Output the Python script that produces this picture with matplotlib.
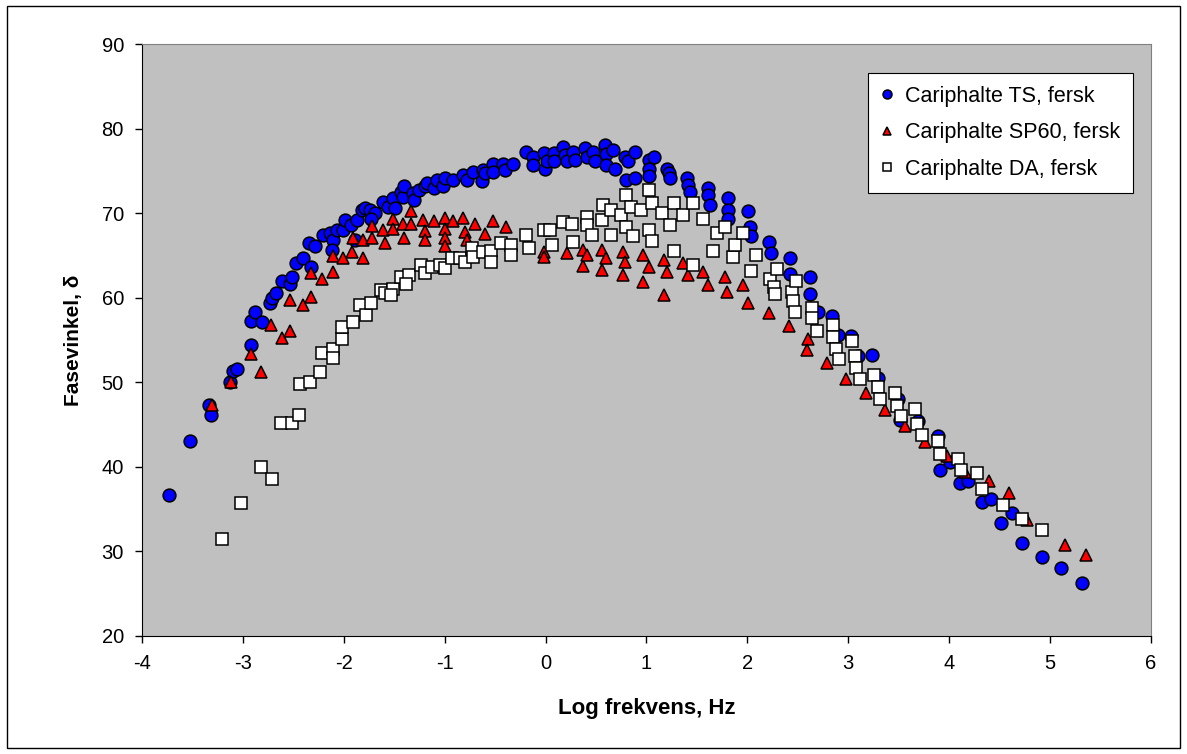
import matplotlib.pyplot as plt
from matplotlib.patches import Rectangle

plt.rcParams['font.family'] = ['Liberation Sans', 'DejaVu Sans']
plt.rcParams['axes.unicode_minus'] = False

# Cariphalte TS, fersk
ts_x = [-3.73, -3.52, -3.34, -3.32, -3.13, -3.10, -3.06, -2.92, -2.92, -2.88,
        -2.81, -2.73, -2.71, -2.67, -2.61, -2.53, -2.51, -2.47, -2.40, -2.32,
        -2.34, -2.29, -2.21, -2.14, -2.11, -2.12, -2.07, -2.01, -1.99, -1.93,
        -1.87, -1.89, -1.82, -1.79, -1.74, -1.69, -1.73, -1.61, -1.56, -1.51,
        -1.49, -1.43, -1.41, -1.40, -1.31, -1.30, -1.25, -1.20, -1.18, -1.11,
        -1.08, -1.02, -1.00, -0.92, -0.82, -0.78, -0.72, -0.62, -0.63, -0.60,
        -0.52, -0.52, -0.42, -0.40, -0.32, -0.19, -0.12, -0.12, -0.02, -0.01,
        0.01, 0.08, 0.08, 0.17, 0.19, 0.21, 0.27, 0.29, 0.39, 0.41,
        0.47, 0.49, 0.59, 0.60, 0.60, 0.67, 0.69, 0.79, 0.80, 0.82,
        0.89, 0.89, 1.02, 1.07, 1.02, 1.02, 1.20, 1.22, 1.23, 1.40,
        1.41, 1.43, 1.61, 1.61, 1.63, 1.81, 1.81, 1.81, 2.01, 2.03,
        2.04, 2.21, 2.23, 2.42, 2.42, 2.62, 2.62, 2.70, 2.84, 2.90,
        3.03, 3.10, 3.23, 3.29, 3.49, 3.51, 3.69, 3.89, 3.91, 4.01,
        4.11, 4.19, 4.32, 4.41, 4.51, 4.62, 4.72, 4.92, 5.11, 5.32]
ts_y = [36.7, 43.1, 47.3, 46.2, 50.0, 51.4, 51.6, 54.4, 57.3, 58.3,
        57.1, 59.4, 60.0, 60.6, 62.0, 61.7, 62.5, 64.1, 64.7, 63.7,
        66.5, 66.1, 67.5, 67.7, 66.9, 65.7, 68.0, 68.0, 69.2, 68.6,
        69.2, 66.9, 70.4, 70.6, 70.4, 70.0, 69.4, 71.4, 70.8, 71.8,
        70.6, 72.6, 72.0, 73.2, 72.4, 71.6, 72.8, 73.2, 73.6, 73.0,
        74.0, 73.2, 74.2, 74.0, 74.6, 74.0, 74.9, 75.1, 73.8, 74.8,
        75.9, 74.9, 75.9, 75.1, 75.9, 77.3, 76.7, 75.7, 77.1, 75.3,
        76.2, 77.1, 76.2, 77.9, 76.9, 76.2, 77.3, 76.3, 77.7, 76.7,
        77.3, 76.2, 78.1, 77.0, 75.7, 77.5, 75.3, 76.7, 74.0, 76.2,
        77.3, 74.2, 76.3, 76.7, 75.3, 74.4, 75.3, 74.8, 74.2, 74.2,
        73.4, 72.6, 73.0, 72.2, 71.0, 71.8, 70.4, 69.4, 70.3, 68.4,
        67.3, 66.6, 65.3, 64.7, 62.8, 62.5, 60.5, 58.3, 57.9, 55.6,
        55.5, 53.1, 53.3, 50.5, 48.1, 45.6, 45.4, 43.7, 39.6, 40.6,
        38.1, 38.3, 35.9, 36.2, 33.4, 34.6, 31.0, 29.4, 28.0, 26.3]

# Cariphalte SP60, fersk
sp_x = [-3.31, -3.12, -2.92, -2.82, -2.72, -2.61, -2.53, -2.53, -2.40, -2.32,
        -2.32, -2.22, -2.11, -2.11, -2.01, -1.92, -1.81, -1.91, -1.81, -1.72,
        -1.72, -1.61, -1.59, -1.51, -1.51, -1.41, -1.40, -1.33, -1.33, -1.21,
        -1.20, -1.20, -1.11, -1.00, -1.00, -1.00, -1.00, -0.92, -0.82, -0.80,
        -0.78, -0.70, -0.60, -0.52, -0.39, -0.02, -0.02, 0.21, 0.37, 0.37,
        0.41, 0.56, 0.56, 0.60, 0.77, 0.79, 0.77, 0.97, 1.02, 0.97,
        1.17, 1.20, 1.17, 1.36, 1.41, 1.56, 1.61, 1.78, 1.80, 1.96,
        2.01, 2.21, 2.41, 2.60, 2.59, 2.79, 2.98, 3.18, 3.36, 3.56,
        3.76, 3.98, 4.16, 4.39, 4.59, 4.77, 5.15, 5.36]
sp_y = [47.3, 50.1, 53.4, 51.3, 56.8, 55.3, 56.1, 59.8, 59.2, 60.1,
        62.9, 62.2, 63.1, 65.0, 64.7, 65.5, 64.7, 67.1, 66.9, 67.1,
        68.5, 68.0, 66.5, 69.4, 68.2, 68.8, 67.1, 70.3, 68.8, 69.2,
        67.9, 66.9, 69.1, 69.5, 68.2, 67.1, 66.1, 69.1, 69.5, 67.8,
        66.9, 68.8, 67.6, 69.1, 68.4, 65.5, 64.8, 65.3, 65.7, 63.8,
        65.1, 65.7, 63.3, 64.7, 65.5, 64.3, 62.7, 65.1, 63.7, 61.9,
        64.5, 63.1, 60.4, 64.1, 62.7, 63.1, 61.5, 62.5, 60.7, 61.5,
        59.4, 58.2, 56.7, 55.1, 53.8, 52.3, 50.4, 48.7, 46.7, 44.8,
        42.9, 41.3, 39.4, 38.3, 36.9, 33.7, 30.8, 29.6]

# Cariphalte DA, fersk
da_x = [-3.21, -3.02, -2.82, -2.71, -2.62, -2.51, -2.44, -2.43, -2.33, -2.24,
        -2.22, -2.11, -2.11, -2.02, -2.02, -1.91, -1.84, -1.78, -1.73, -1.63,
        -1.59, -1.51, -1.53, -1.43, -1.35, -1.38, -1.23, -1.20, -1.13, -1.05,
        -1.00, -0.93, -0.85, -0.80, -0.73, -0.72, -0.62, -0.54, -0.54, -0.44,
        -0.34, -0.34, -0.19, -0.16, -0.02, 0.04, 0.06, 0.17, 0.26, 0.27,
        0.41, 0.41, 0.46, 0.57, 0.56, 0.65, 0.65, 0.75, 0.80, 0.80,
        0.85, 0.87, 0.95, 1.02, 1.05, 1.02, 1.05, 1.15, 1.23, 1.27,
        1.27, 1.36, 1.46, 1.46, 1.56, 1.66, 1.70, 1.78, 1.86, 1.88,
        1.96, 2.04, 2.09, 2.22, 2.26, 2.27, 2.29, 2.44, 2.45, 2.47,
        2.48, 2.64, 2.64, 2.69, 2.85, 2.85, 2.88, 2.91, 3.04, 3.07,
        3.08, 3.12, 3.25, 3.29, 3.31, 3.46, 3.48, 3.52, 3.66, 3.68,
        3.73, 3.89, 3.91, 4.09, 4.12, 4.28, 4.32, 4.53, 4.72, 4.92]
da_y = [31.5, 35.7, 40.0, 38.6, 45.2, 45.2, 46.2, 49.8, 50.0, 51.2,
        53.5, 54.0, 52.9, 55.2, 56.6, 57.1, 59.2, 58.0, 59.4, 60.9,
        60.6, 61.1, 60.4, 62.5, 62.7, 61.7, 63.9, 62.9, 63.7, 63.9,
        63.5, 64.7, 64.7, 64.3, 65.9, 64.9, 65.5, 65.6, 64.3, 66.5,
        66.3, 65.1, 67.5, 65.9, 68.0, 68.0, 66.3, 69.0, 68.8, 66.6,
        69.6, 68.6, 67.5, 71.0, 69.2, 70.4, 67.5, 69.8, 72.2, 68.4,
        70.8, 67.3, 70.4, 72.8, 71.3, 68.0, 66.8, 70.1, 68.6, 71.3,
        65.6, 69.8, 71.3, 63.9, 69.4, 65.6, 67.7, 68.4, 64.9, 66.3,
        67.7, 63.2, 65.1, 62.3, 61.3, 60.5, 63.4, 60.7, 59.6, 58.4,
        62.0, 58.8, 57.6, 56.1, 56.8, 55.4, 54.0, 52.8, 54.9, 53.1,
        51.7, 50.4, 50.9, 49.5, 48.0, 48.8, 47.2, 46.0, 46.9, 45.1,
        43.8, 43.1, 41.5, 41.0, 39.6, 39.3, 37.4, 35.5, 33.8, 32.5]

fig = plt.figure(figsize=(11.87, 7.54), dpi=100)
ax = fig.add_axes([0.1196, 0.1565, 0.8501, 0.7845])
ax.set_facecolor('#C0C0C0')

ax.plot(ts_x, ts_y, 'o', ms=9.2, mfc='#0000FF', mec='black', mew=1.1,
        label='Cariphalte TS, fersk')
ax.plot(sp_x, sp_y, '^', ms=9.2, mfc='#FF0000', mec='black', mew=1.1,
        label='Cariphalte SP60, fersk')
ax.plot(da_x, da_y, 's', ms=8.6, mfc='white', mec='black', mew=1.1,
        label='Cariphalte DA, fersk')

ax.set_xlim(-4, 6)
ax.set_ylim(20, 90)
ax.set_xticks(range(-4, 7))
ax.set_yticks(range(20, 91, 10))
ax.tick_params(direction='out', length=5, width=1, labelsize=14.5)
ax.tick_params(axis='x', pad=8)
ax.tick_params(axis='y', pad=8)

for side in ('top', 'right'):
    ax.spines[side].set_color('#808080')
for side in ('left', 'bottom'):
    ax.spines[side].set_color('black')

ax.set_xlabel('Log frekvens, Hz', fontsize=16, fontweight='bold')
ax.set_ylabel('Fasevinkel, δ', fontsize=15, fontweight='bold')
ax.xaxis.set_label_coords(0.5, -0.122)
ax.xaxis.label.set_va('center')
ax.yaxis.set_label_coords(-0.068, 0.5)
ax.yaxis.label.set_va('center')

leg = ax.legend(loc='upper right', bbox_to_anchor=(0.982, 0.952), fontsize=15.5,
                markerscale=0.7, frameon=True, fancybox=False, edgecolor='black',
                framealpha=1, handlelength=0.5, handletextpad=0.6,
                labelspacing=0.72, borderpad=0.6, borderaxespad=0)
leg.get_frame().set_linewidth(0.8)

fig.patches.append(Rectangle((0.006, 0.008), 0.988, 0.984, transform=fig.transFigure,
                             fill=False, edgecolor='black', linewidth=1))

fig.savefig('out.png', dpi=100)
